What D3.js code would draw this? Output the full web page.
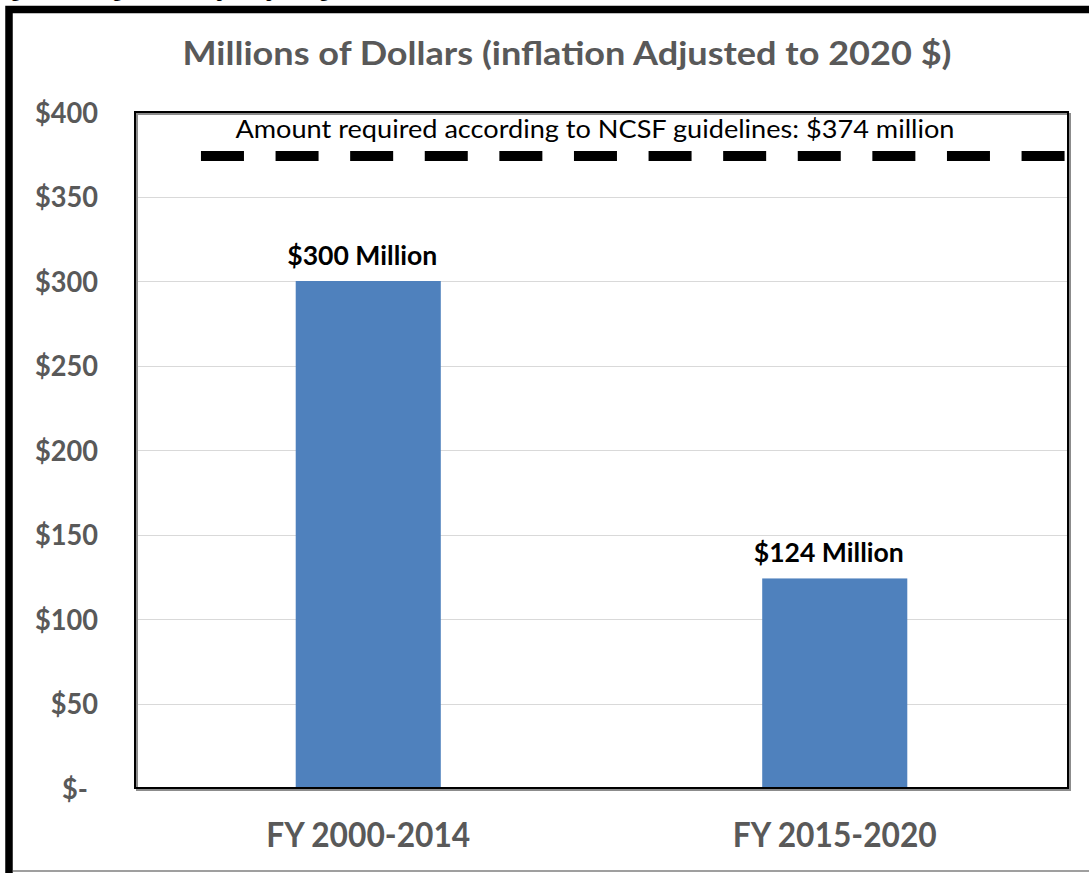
<!DOCTYPE html>
<html>
<head>
<meta charset="utf-8">
<script src="https://cdn.jsdelivr.net/npm/d3@7/dist/d3.min.js"></script>
<style>
  html, body { margin: 0; padding: 0; background: #fff; }
  svg { display: block; }
</style>
</head>
<body>
<svg id="chart" width="1089" height="873"></svg>
<script>
// Capital spending by period, millions of 2020 dollars
const categories = ["FY 2000-2014", "FY 2015-2020"];
const spending = [300, 124];
const barLabels = ["$300 Million", "$124 Million"];
const yTicks = [0, 50, 100, 150, 200, 250, 300, 350, 400];
const requiredAmount = 374;
const requiredLabel = "Amount required according to NCSF guidelines: $374 million";
const chartTitle = "Millions of Dollars (inflation Adjusted to 2020 $)";
const figureHeading = "Figure 4. Average Annual Capital Spending";

const W = 1089, H = 873;
const plot = { left: 135, right: 1068, top: 112, bottom: 788 };
const GRAY = "#595959";
const FONT = "Lato, 'Open Sans', sans-serif";

const svg = d3.select("#chart");

// squeeze a text element horizontally so it spans the given width
function fitWidth(sel, target) {
  const w = sel.node().getComputedTextLength();
  sel.attr("textLength", target).attr("lengthAdjust", "spacingAndGlyphs");
  return target / w;
}
function scaleWidth(sel, factor) {
  const w = sel.node().getComputedTextLength();
  sel.attr("textLength", (w * factor).toFixed(2)).attr("lengthAdjust", "spacingAndGlyphs");
}

// figure heading sitting above the frame
svg.append("text")
  .attr("x", -5).attr("y", -3)
  .attr("font-family", "'Liberation Serif', 'Times New Roman', serif")
  .attr("font-weight", "bold")
  .attr("font-size", 18)
  .attr("fill", "#000")
  .text(figureHeading);

// outer frame: heavy top/left edges, light bottom edge
svg.append("path")
  .attr("d", `M9,${H} L9,9.5 L${W + 5},9.5`)
  .attr("fill", "none").attr("stroke", "#000").attr("stroke-width", 7.5);
svg.append("line")
  .attr("x1", 13).attr("x2", W).attr("y1", 871).attr("y2", 871)
  .attr("stroke", "#7f7f7f").attr("stroke-width", 1.5);

// scales
const x = d3.scaleBand()
  .domain(categories)
  .range([plot.left, plot.right])
  .paddingInner(0.689)
  .paddingOuter(0.3445);
const y = d3.scaleLinear().domain([0, 400]).range([plot.bottom, plot.top]);

// gridlines
svg.append("g")
  .selectAll("line")
  .data(yTicks.filter(t => t > 0 && t < 400))
  .join("line")
  .attr("x1", plot.left).attr("x2", plot.right)
  .attr("y1", d => Math.round(y(d)) + 0.5).attr("y2", d => Math.round(y(d)) + 0.5)
  .attr("stroke", "#d9d9d9").attr("stroke-width", 1.2);

// bars
svg.append("g")
  .selectAll("rect")
  .data(categories.map((c, i) => ({ c, v: spending[i] })))
  .join("rect")
  .attr("x", d => x(d.c))
  .attr("width", x.bandwidth())
  .attr("y", d => y(d.v))
  .attr("height", d => y(0) - y(d.v))
  .attr("fill", "#4f81bd");

// plot area border with a soft shadow on the lower/right side
svg.append("rect")
  .attr("x", plot.left + 2).attr("y", plot.top + 2)
  .attr("width", plot.right - plot.left).attr("height", plot.bottom - plot.top)
  .attr("fill", "none").attr("stroke", "#8c8c8c").attr("stroke-width", 2);
svg.append("rect")
  .attr("x", plot.left).attr("y", plot.top)
  .attr("width", plot.right - plot.left).attr("height", plot.bottom - plot.top)
  .attr("fill", "none").attr("stroke", "#000").attr("stroke-width", 2);

// required-amount reference line
const refStart = plot.left + (plot.right - plot.left) * 0.0707;
svg.append("line")
  .attr("x1", refStart).attr("x2", plot.right - 3)
  .attr("y1", y(requiredAmount)).attr("y2", y(requiredAmount))
  .attr("stroke", "#000").attr("stroke-width", 10)
  .attr("stroke-dasharray", "43,31.6");

const ann = svg.append("text")
  .attr("x", 595).attr("y", 138)
  .attr("text-anchor", "middle")
  .attr("font-family", FONT)
  .attr("font-size", 25.5)
  .attr("fill", "#000")
  .text(requiredLabel);
fitWidth(ann, 719);

// bar value labels
svg.append("g")
  .selectAll("text")
  .data(categories.map((c, i) => ({ c, v: spending[i], t: barLabels[i] })))
  .join("text")
  .attr("x", d => x(d.c) + x.bandwidth() / 2 - 6)
  .attr("y", d => y(d.v) - 16)
  .attr("text-anchor", "middle")
  .attr("font-family", FONT)
  .attr("font-weight", "bold")
  .attr("font-size", 27)
  .attr("fill", "#000")
  .text(d => d.t)
  .each(function () { fitWidth(d3.select(this), 150); });

// y axis labels
const yAxis = d3.axisLeft(y)
  .tickValues(yTicks)
  .tickSize(0)
  .tickPadding(0)
  .tickFormat(d => d === 0 ? "$-" : "$" + d);
const yG = svg.append("g").attr("transform", `translate(98,0)`).call(yAxis);
yG.select(".domain").remove();
yG.selectAll("text")
  .attr("font-family", FONT)
  .attr("font-weight", "bold")
  .attr("font-size", 28.5)
  .attr("fill", GRAY)
  .attr("dy", "0.36em");
const yFactor = fitWidth(yG.selectAll("text").filter(d => d === 400), 63);
yG.selectAll("text").filter(d => d !== 400).each(function () { scaleWidth(d3.select(this), yFactor); });
yG.selectAll("text").filter(d => d === 0).attr("dx", -10);

// x axis labels
const xAxis = d3.axisBottom(x).tickSize(0).tickPadding(0);
const xG = svg.append("g").attr("transform", `translate(0,${plot.bottom})`).call(xAxis);
xG.select(".domain").remove();
xG.selectAll("text")
  .attr("font-family", FONT)
  .attr("font-weight", "bold")
  .attr("font-size", 34)
  .attr("fill", GRAY)
  .attr("dy", 0)
  .attr("y", 59)
  .each(function () { fitWidth(d3.select(this), 204); });

// chart title
const title = svg.append("text")
  .attr("x", 567).attr("y", 65)
  .attr("text-anchor", "middle")
  .attr("font-family", FONT)
  .attr("font-weight", "bold")
  .attr("font-size", 32)
  .attr("fill", GRAY)
  .text(chartTitle);
fitWidth(title, 769);
</script>
</body>
</html>
